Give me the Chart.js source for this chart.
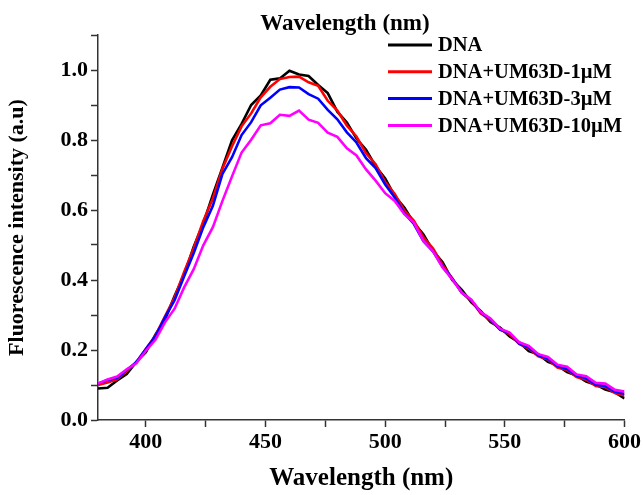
<!DOCTYPE html>
<html>
<head>
<meta charset="utf-8">
<script src="https://cdn.jsdelivr.net/npm/chart.js@4.4.0/dist/chart.umd.min.js"></script>
<style>
  html, body { margin: 0; padding: 0; background: #fff; }
  #wrap { width: 643px; height: 495px; }
</style>
</head>
<body>
<div id="wrap"><canvas id="myChart" width="643" height="495"></canvas></div>
<script>
// emission spectra, every 4 nm (noise kept roughly)
const wavelengths = [380, 384, 388, 392, 396, 400, 404, 408, 412, 416, 420, 424, 428, 432, 436, 440, 444, 448, 452, 456,
  460, 464, 468, 472, 476, 480, 484, 488, 492, 496, 500, 504, 508, 512, 516, 520, 524, 528, 532, 536,
  540, 544, 548, 552, 556, 560, 564, 568, 572, 576, 580, 584, 588, 592, 596, 600];

const dna = [0.090, 0.092, 0.113, 0.131, 0.166, 0.194, 0.244, 0.287, 0.354, 0.415, 0.495, 0.562, 0.644, 0.721, 0.799, 0.846, 0.900, 0.927, 0.972, 0.976,
  0.998, 0.987, 0.983, 0.957, 0.934, 0.881, 0.850, 0.804, 0.772, 0.725, 0.690, 0.640, 0.607, 0.563, 0.530, 0.483, 0.451, 0.400, 0.372, 0.336,
  0.311, 0.280, 0.264, 0.239, 0.222, 0.197, 0.188, 0.166, 0.156, 0.137, 0.127, 0.110, 0.101, 0.087, 0.079, 0.062];

const dna1uM = [0.100, 0.107, 0.116, 0.140, 0.164, 0.203, 0.241, 0.296, 0.350, 0.423, 0.491, 0.569, 0.633, 0.718, 0.782, 0.839, 0.876, 0.922, 0.952, 0.974,
  0.980, 0.981, 0.965, 0.955, 0.912, 0.884, 0.841, 0.810, 0.762, 0.731, 0.680, 0.646, 0.599, 0.569, 0.522, 0.490, 0.443, 0.405, 0.364, 0.341,
  0.304, 0.285, 0.259, 0.245, 0.217, 0.204, 0.182, 0.173, 0.150, 0.143, 0.123, 0.115, 0.097, 0.094, 0.077, 0.070];

const dna3uM = [0.104, 0.114, 0.120, 0.143, 0.165, 0.203, 0.239, 0.293, 0.342, 0.411, 0.477, 0.551, 0.612, 0.703, 0.751, 0.814, 0.851, 0.899, 0.921, 0.944,
  0.951, 0.950, 0.931, 0.918, 0.886, 0.859, 0.822, 0.793, 0.748, 0.720, 0.673, 0.636, 0.591, 0.560, 0.511, 0.482, 0.438, 0.404, 0.364, 0.342,
  0.306, 0.288, 0.258, 0.248, 0.218, 0.207, 0.185, 0.175, 0.154, 0.146, 0.126, 0.119, 0.101, 0.097, 0.081, 0.075];

const dna10uM = [0.104, 0.116, 0.124, 0.145, 0.162, 0.198, 0.229, 0.279, 0.318, 0.379, 0.431, 0.499, 0.551, 0.626, 0.696, 0.764, 0.801, 0.842, 0.848, 0.872,
  0.869, 0.884, 0.858, 0.849, 0.821, 0.809, 0.776, 0.756, 0.716, 0.684, 0.648, 0.626, 0.588, 0.564, 0.511, 0.482, 0.436, 0.402, 0.364, 0.344,
  0.308, 0.290, 0.261, 0.250, 0.222, 0.212, 0.188, 0.180, 0.158, 0.152, 0.130, 0.125, 0.106, 0.104, 0.086, 0.081];

const seriesLabels = ['DNA', 'DNA+UM63D-1\u00b5M', 'DNA+UM63D-3\u00b5M', 'DNA+UM63D-10\u00b5M'];
const seriesColors = ['#000000', '#ff0000', '#0000ff', '#ff00ff'];
const seriesValues = [dna, dna1uM, dna3uM, dna10uM];

const xTicks = [400, 450, 500, 550, 600];
const yTicks = [0.0, 0.2, 0.4, 0.6, 0.8, 1.0];

const FONT = '"Liberation Serif", "Times New Roman", serif';

const toPoints = vals => wavelengths.map((w, i) => ({ x: w, y: vals[i] }));

const datasets = seriesValues.map((vals, i) => ({
  label: seriesLabels[i],
  data: toPoints(vals),
  borderColor: seriesColors[i],
  borderWidth: 2.6,
  pointRadius: 0,
  tension: 0,
  fill: false,
  order: seriesValues.length - i,
}));

// top title and legend drawn by hand, Origin style
const decorations = {
  id: 'decorations',
  afterDraw(chart) {
    const ctx = chart.ctx;
    ctx.save();
    ctx.fillStyle = '#000';
    ctx.font = 'bold 23px ' + FONT;
    ctx.textAlign = 'center';
    ctx.textBaseline = 'middle';
    ctx.fillText('Wavelength (nm)', 345, 24);

    ctx.font = 'bold 20.5px ' + FONT;
    ctx.textAlign = 'left';
    chart.data.datasets.forEach((ds, i) => {
      const y = 45 + i * 26.8;
      ctx.strokeStyle = ds.borderColor;
      ctx.lineWidth = 3;
      ctx.beginPath();
      ctx.moveTo(388, y);
      ctx.lineTo(432, y);
      ctx.stroke();
      ctx.fillText(ds.label, 438, y + 1);
    });
    ctx.restore();
  }
};

new Chart(document.getElementById('myChart'), {
  type: 'line',
  data: { datasets: datasets },
  options: {
    responsive: false,
    animation: false,
    layout: { padding: { top: 35, right: 17, left: 0, bottom: 0 } },
    plugins: { legend: { display: false }, tooltip: { enabled: false } },
    scales: {
      x: {
        type: 'linear',
        min: 380,
        max: 600,
        afterFit: s => { s.height = 75; },
        afterBuildTicks: s => {
          const t = [];
          for (let v = 400; v <= 600; v += 25) t.push({ value: v });
          s.ticks = t;
        },
        ticks: {
          autoSkip: false,
          maxRotation: 0,
          color: '#000',
          padding: 2,
          font: { family: FONT, size: 22, weight: 'bold' },
          callback: v => (xTicks.includes(v) ? String(v) : ''),
        },
        grid: { drawOnChartArea: false, drawTicks: true, tickLength: 7, color: '#333', tickWidth: 1.5 },
        border: { display: true, color: '#333', width: 1.5 },
        title: {
          display: true,
          text: 'Wavelength (nm)',
          color: '#000',
          padding: { top: 0, bottom: 1 },
          font: { family: FONT, size: 25, weight: 'bold' },
        },
      },
      y: {
        min: 0,
        max: 1.1,
        afterFit: s => { s.width = 98; },
        afterBuildTicks: s => {
          const t = [];
          for (let k = 0; k <= 11; k++) t.push({ value: k / 10 });
          s.ticks = t;
        },
        ticks: {
          autoSkip: false,
          color: '#000',
          padding: 3,
          font: { family: FONT, size: 22, weight: 'bold' },
          callback: v => {
            const r = Math.round(v * 10) / 10;
            return yTicks.some(t => Math.abs(t - r) < 1e-6) ? r.toFixed(1) : '';
          },
        },
        grid: { drawOnChartArea: false, drawTicks: true, tickLength: 7, color: '#333', tickWidth: 1.5 },
        border: { display: true, color: '#333', width: 1.5 },
        title: {
          display: true,
          text: 'Fluorescence intensity (a.u)',
          color: '#000',
          padding: { top: 4, bottom: 0 },
          font: { family: FONT, size: 22, weight: 'bold' },
        },
      },
    },
  },
  plugins: [decorations],
});
</script>
</body>
</html>
